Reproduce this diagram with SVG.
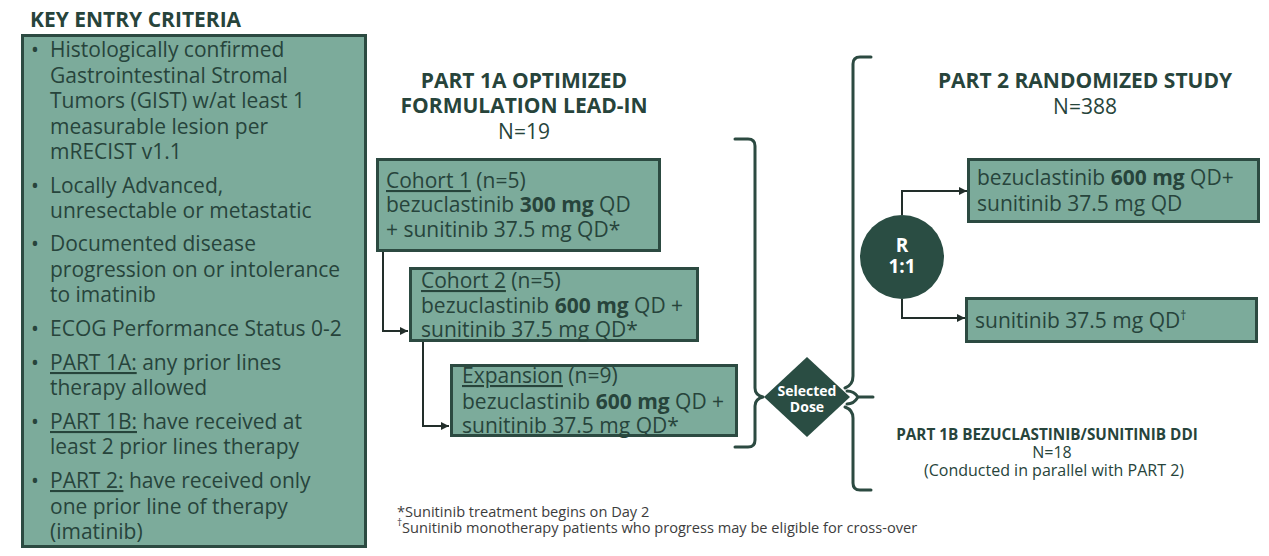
<svg xmlns="http://www.w3.org/2000/svg" width="1269" height="556" viewBox="0 0 1269 556">
<defs>
<style>
text{font-family:'Open Sans','Noto Sans','DejaVu Sans',sans-serif;fill:#27443b}
.t{font-size:21px}
.h{font-size:21px;font-weight:700}
.b{font-weight:700}
.box{fill:#7cab9b;stroke:#2c4a41;stroke-width:3}
.br{fill:none;stroke:#2c4a41;stroke-width:3;stroke-linecap:round;stroke-linejoin:round}
.ln{fill:none;stroke:#222e2a;stroke-width:2}
.dk{fill:#2a4d43}
.w{fill:#ffffff;font-weight:700}
.u{text-decoration:underline}
.fn{font-size:14.6px;fill:#3d3d3d}
</style>
<marker id="ah" viewBox="0 0 10 10" refX="10" refY="5" markerWidth="9" markerHeight="8" markerUnits="userSpaceOnUse" orient="auto">
<path d="M0,0 L10,5 L0,10 z" fill="#222e2a"/>
</marker>
</defs>
<rect width="1269" height="556" fill="#ffffff"/>

<g id="criteria">
<text x="30" y="27" style="font-size:21px;font-weight:700">KEY ENTRY CRITERIA</text>
<rect class="box" x="22.5" y="35.5" width="343" height="511"/>
<g class="t">
<text x="31" y="57">•</text>
<text x="50" y="57">Histologically confirmed</text>
<text x="50" y="83">Gastrointestinal Stromal</text>
<text x="50" y="108">Tumors (GIST) w/at least 1</text>
<text x="50" y="134">measurable lesion per</text>
<text x="50" y="159">mRECIST v1.1</text>
<text x="31" y="193">•</text>
<text x="50" y="193">Locally Advanced,</text>
<text x="50" y="218">unresectable or metastatic</text>
<text x="31" y="251">•</text>
<text x="50" y="251">Documented disease</text>
<text x="50" y="277">progression on or intolerance</text>
<text x="50" y="302">to imatinib</text>
<text x="31" y="336">•</text>
<text x="50" y="336">ECOG Performance Status 0-2</text>
<text x="31" y="370">•</text>
<text x="50" y="370"><tspan class="u">PART 1A:</tspan> any prior lines</text>
<text x="50" y="395">therapy allowed</text>
<text x="31" y="429">•</text>
<text x="50" y="429"><tspan class="u">PART 1B:</tspan> have received at</text>
<text x="50" y="454">least 2 prior lines therapy</text>
<text x="31" y="488">•</text>
<text x="50" y="488"><tspan class="u">PART 2:</tspan> have received only</text>
<text x="50" y="514">one prior line of therapy</text>
<text x="50" y="539">(imatinib)</text>
</g>
</g>

<g id="part1a-title">
<text class="h" x="524" y="88" text-anchor="middle">PART 1A OPTIMIZED</text>
<text class="h" x="524" y="113" text-anchor="middle">FORMULATION LEAD-IN</text>
<text class="t" x="524" y="139" text-anchor="middle">N=19</text>
</g>

<g id="cohort1">
<rect class="box" x="377.5" y="159.5" width="282" height="91"/>
<text class="t" x="386" y="188"><tspan class="u">Cohort 1</tspan> (n=5)</text>
<text class="t" x="386" y="212">bezuclastinib <tspan class="b">300 mg</tspan> QD</text>
<text class="t" x="386" y="237">+ sunitinib 37.5 mg QD*</text>
</g>

<g id="cohort2">
<rect class="box" x="410.5" y="268.5" width="287" height="72"/>
<text class="t" x="421" y="288"><tspan class="u">Cohort 2</tspan> (n=5)</text>
<text class="t" x="421" y="313">bezuclastinib <tspan class="b">600 mg</tspan> QD +</text>
<text class="t" x="421" y="337">sunitinib 37.5 mg QD*</text>
</g>

<g id="expansion">
<rect class="box" x="451.5" y="365.5" width="285" height="70"/>
<text class="t" x="462" y="383"><tspan class="u">Expansion</tspan> (n=9)</text>
<text class="t" x="462" y="409">bezuclastinib <tspan class="b">600 mg</tspan> QD +</text>
<text class="t" x="462" y="433">sunitinib 37.5 mg QD*</text>
</g>

<g id="selected-dose">
<path class="dk" d="M807,357 L850,397 L807,437 L764,397 z"/>
<text class="w" x="807" y="396" text-anchor="middle" style="font-size:14px">Selected</text>
<text class="w" x="807" y="412" text-anchor="middle" style="font-size:14px">Dose</text>
</g>

<g id="part2-title">
<text class="h" x="1085" y="88" text-anchor="middle">PART 2 RANDOMIZED STUDY</text>
<text class="t" x="1085" y="114" text-anchor="middle">N=388</text>
</g>

<g id="randomize">
<circle class="dk" cx="902" cy="257" r="42"/>
<text class="w" x="902" y="252" text-anchor="middle" style="font-size:19px">R</text>
<text class="w" x="902" y="273" text-anchor="middle" style="font-size:19px">1:1</text>
</g>

<g id="arm-combo">
<rect class="box" x="968.5" y="159.5" width="290" height="62"/>
<text class="t" x="977" y="185">bezuclastinib <tspan class="b">600 mg</tspan> QD+</text>
<text class="t" x="977" y="211">sunitinib 37.5 mg QD</text>
</g>

<g id="arm-mono">
<rect class="box" x="966.5" y="298.5" width="290" height="43"/>
<text class="t" x="975" y="328">sunitinib 37.5 mg QD<tspan style="font-size:12px" baseline-shift="super">†</tspan></text>
</g>

<g id="part1b">
<text x="1047" y="440" text-anchor="middle" style="font-size:15.3px;font-weight:700">PART 1B BEZUCLASTINIB/SUNITINIB DDI</text>
<text x="1052" y="458" text-anchor="middle" style="font-size:16px">N=18</text>
<text x="1054" y="476" text-anchor="middle" style="font-size:16px">(Conducted in parallel with PART 2)</text>
</g>

<g id="footnotes">
<text class="fn" x="397" y="517">*Sunitinib treatment begins on Day 2</text>
<text class="fn" x="397" y="533"><tspan style="font-size:10px" baseline-shift="super">†</tspan>Sunitinib monotherapy patients who progress may be eligible for cross-over</text>
</g>

<g id="connectors">
<path class="ln" d="M383,252 V331 H408" marker-end="url(#ah)"/>
<path class="ln" d="M423,342 V426 H449" marker-end="url(#ah)"/>
<path class="ln" d="M902,215 V191 H967" marker-end="url(#ah)"/>
<path class="ln" d="M902,299 V318 H965" marker-end="url(#ah)"/>
<path class="br" d="M735,139 L748,139 Q755,139 755,146 L755,388 Q755,395 763,397 Q755,399 755,406 L755,440 Q755,447 748,447 L735,447"/>
<path class="br" d="M871,57 L860,57 Q853,57 853,64 L853,376 Q853,385 845,388"/>
<path class="br" d="M847,391 Q854,391 858,397 L873,397 M847,404 Q854,404 858,397"/>
<path class="br" d="M845,407 Q853,410 853,418 L853,483 Q853,490 860,490 L871,490"/>
</g>
</svg>
